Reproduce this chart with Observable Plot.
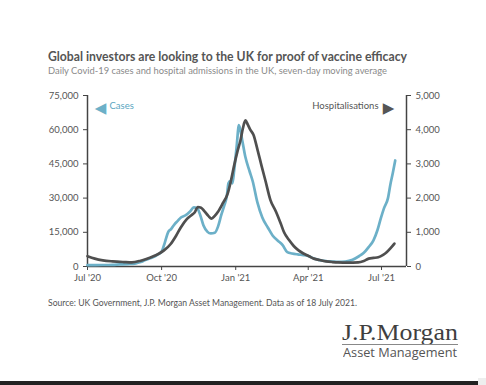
<!DOCTYPE html>
<html><head><meta charset="utf-8">
<script src="https://cdn.jsdelivr.net/npm/d3@7"></script>
<script src="https://cdn.jsdelivr.net/npm/@observablehq/plot@0.6"></script>
<style>
html,body{margin:0;padding:0;background:#fff;}
#wrap{position:relative;width:486px;height:385px;overflow:hidden;background:#fff;font-family:Lato,"Open Sans",sans-serif;}
.t{position:absolute;white-space:nowrap;line-height:1;transform-origin:0 0;}
#title{left:48px;top:50px;font-size:13px;font-weight:700;color:#555;}
#subtitle{left:48px;top:66px;font-size:9.5px;color:#8a8a8a;}
#source{left:48px;top:299px;font-size:8.5px;color:#555;}
#logo1{left:342px;top:321px;font-family:"Liberation Serif",serif;font-size:23px;color:#3f3f3f;}
#logo2{left:343px;top:347px;font-family:"Open Sans",sans-serif;font-size:12.5px;color:#555;}
#logoline{position:absolute;left:342px;top:344px;width:116px;height:1px;background:#888;}
#chart{position:absolute;left:0;top:80px;}
#bar{position:absolute;left:0;top:381px;width:478px;height:4px;background:#222;}
#bar2{position:absolute;left:478px;top:378px;width:8px;height:7px;background:#eee;}
</style></head>
<body><div id="wrap">
<div class="t" id="title">Global investors are looking to the UK for proof of vaccine efficacy</div>
<div class="t" id="subtitle">Daily Covid-19 cases and hospital admissions in the UK, seven-day moving average</div>
<div id="chart"></div>
<div class="t" id="source">Source: UK Government, J.P. Morgan Asset Management. Data as of 18 July 2021.</div>
<div class="t" id="logo1">J.P.Morgan</div>
<div id="logoline"></div>
<div class="t" id="logo2">Asset Management</div>
<div id="bar"></div><div id="bar2"></div>
</div>
<script>
// ---- data ----
const caseDates = ["2020-07-01","2020-07-10","2020-07-20","2020-08-01","2020-08-10","2020-08-20","2020-08-30","2020-09-05","2020-09-10","2020-09-15","2020-09-20","2020-09-26","2020-10-01","2020-10-05","2020-10-09","2020-10-13","2020-10-17","2020-10-21","2020-10-25","2020-10-31","2020-11-05","2020-11-10","2020-11-14","2020-11-18","2020-11-22","2020-11-27","2020-12-01","2020-12-06","2020-12-10","2020-12-14","2020-12-18","2020-12-21","2020-12-23","2020-12-25","2020-12-28","2020-12-30","2021-01-02","2021-01-05","2021-01-09","2021-01-13","2021-01-18","2021-01-22","2021-01-28","2021-02-03","2021-02-10","2021-02-16","2021-02-22","2021-02-28","2021-03-06","2021-03-12","2021-03-19","2021-03-26","2021-03-31","2021-04-08","2021-04-15","2021-04-23","2021-05-01","2021-05-08","2021-05-17","2021-05-26","2021-06-03","2021-06-09","2021-06-15","2021-06-21","2021-06-26","2021-06-30","2021-07-04","2021-07-09","2021-07-12","2021-07-15","2021-07-18"];
const caseValues = [600,620,650,750,900,1050,1400,2000,2700,3400,4000,5200,6500,10500,15000,16500,18500,20000,21500,22500,24000,25900,25600,22500,18000,15200,14500,14800,17500,22500,27000,31000,36500,37500,36500,42000,52000,62000,55500,48000,42000,37500,28000,21500,17000,13500,11400,9500,6300,5700,5300,5000,4700,3500,2800,2400,2200,2000,2200,3000,4500,6000,8500,11500,16000,21000,25500,30000,36000,41000,46500];
const hospDates = ["2020-07-01","2020-07-10","2020-07-20","2020-08-01","2020-08-15","2020-08-25","2020-09-05","2020-09-12","2020-09-20","2020-09-28","2020-10-04","2020-10-12","2020-10-19","2020-10-25","2020-11-01","2020-11-07","2020-11-11","2020-11-15","2020-11-19","2020-11-23","2020-11-28","2020-12-02","2020-12-06","2020-12-10","2020-12-16","2020-12-22","2020-12-26","2020-12-30","2021-01-03","2021-01-07","2021-01-10","2021-01-13","2021-01-16","2021-01-19","2021-01-23","2021-01-28","2021-02-02","2021-02-07","2021-02-13","2021-02-20","2021-02-26","2021-03-02","2021-03-08","2021-03-14","2021-03-20","2021-03-26","2021-04-02","2021-04-08","2021-04-15","2021-04-23","2021-05-01","2021-05-08","2021-05-20","2021-06-02","2021-06-09","2021-06-15","2021-06-21","2021-06-27","2021-07-03","2021-07-07","2021-07-12","2021-07-17"];
const hospValues = [300,230,180,150,130,120,170,220,290,380,470,650,900,1150,1380,1500,1580,1740,1720,1620,1480,1400,1480,1600,1850,2130,2500,2950,3350,3700,4050,4270,4150,4000,3850,3420,2950,2500,1950,1600,1250,1000,780,600,470,380,300,230,190,150,130,120,115,120,160,230,250,270,340,410,530,670];
const leftTicks = [0,15000,30000,45000,60000,75000];
const rightTicks = [0,1000,2000,3000,4000,5000];
const xTicks = ["2020-07-01","2020-10-01","2021-01-01","2021-04-01","2021-07-01"];
const xDomain = ["2020-07-01","2021-08-01"];
const casesLabel = "Cases";
const hospLabel = "Hospitalisations";

// ---- chart ----
const ratio = leftTicks[leftTicks.length-1] / rightTicks[rightTicks.length-1];
const cases = caseDates.map((d,i)=>({date:new Date(d), value:caseValues[i]}));
const hosp = hospDates.map((d,i)=>({date:new Date(d), value:hospValues[i]*ratio}));
const fmt = d3.format(",");
const dom = xDomain.map(d=>new Date(d));
const blue = "#6cb0c8", grey = "#4f4f4f", axisC = "#444";

const chart = Plot.plot({
  width:486, height:210,
  marginLeft:87, marginRight:80, marginTop:15, marginBottom:24,
  x:{type:"utc", domain:dom},
  y:{domain:[0, leftTicks[leftTicks.length-1]]},
  style:{fontFamily:"Lato, sans-serif", fontSize:"9.5px", color:"#555", background:"transparent", overflow:"visible"},
  marks:[
    Plot.axisY({anchor:"left", ticks:leftTicks, tickFormat:fmt, tickSize:4, tickPadding:5, label:null, stroke:axisC}),
    Plot.axisY({anchor:"right", ticks:rightTicks.map(v=>v*ratio), tickFormat:d=>fmt(d/ratio), tickSize:4, tickPadding:5, label:null, stroke:axisC}),
    Plot.axisX({ticks:xTicks.map(d=>new Date(d)), tickFormat:d3.utcFormat("%b '%y"), tickSize:4, tickPadding:4, label:null, stroke:axisC}),
    Plot.ruleX([dom[0]], {stroke:axisC, strokeWidth:1.5}),
    Plot.ruleX([dom[1]], {stroke:axisC, strokeWidth:1.5}),
    Plot.ruleY([0], {stroke:axisC, strokeWidth:1.5}),
    Plot.lineY(cases, {x:"date", y:"value", stroke:blue, strokeWidth:2.7, curve:"monotone-x"}),
    Plot.lineY(hosp, {x:"date", y:"value", stroke:grey, strokeWidth:2.7, curve:"monotone-x"}),
    Plot.text(["◀"], {frameAnchor:"top-left", dx:13, dy:7, fill:blue, fontSize:15, fontFamily:"DejaVu Sans", textAnchor:"middle"}),
    Plot.text([casesLabel], {frameAnchor:"top-left", dx:22, dy:7, fill:"#5aa6c1", fontSize:9.5, textAnchor:"start"}),
    Plot.text(["▶"], {frameAnchor:"top-right", dx:-18, dy:7, fill:"#555", fontSize:15, fontFamily:"DejaVu Sans", textAnchor:"middle"}),
    Plot.text([hospLabel], {frameAnchor:"top-right", dx:-28, dy:7, fill:"#555", fontSize:9.5, textAnchor:"end"})
  ]
});
document.getElementById("chart").appendChild(chart);

// fit text widths horizontally
function fit(id, target){
  const el = document.getElementById(id);
  const w = el.getBoundingClientRect().width;
  el.style.transform = `scaleX(${target/w})`;
}
fit("title", 359);
fit("subtitle", 339);
fit("source", 309);
fit("logo1", 116);
fit("logo2", 114);
</script>
</body></html>
